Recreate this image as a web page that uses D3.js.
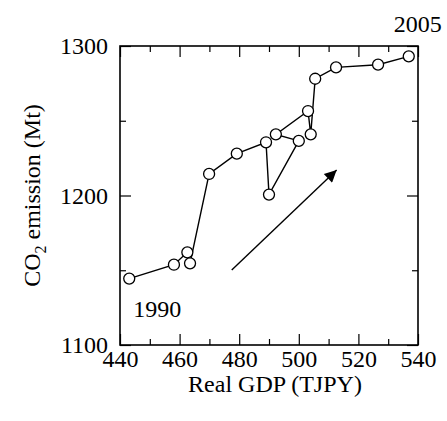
<!DOCTYPE html>
<html lang="en">
  <head>
    <meta charset="UTF-8" />
    <script src="https://d3js.org/d3.v7.min.js"></script>
    <style>
      body { margin: 0; background: #fff; }
      .domain { display: none; }
      .tick line { stroke: #000; stroke-width: 1.2; }
    </style>
  </head>
  <body>
    <svg width="447" height="421"></svg>
    <script>
      // data
      const years = [1990, 1991, 1992, 1993, 1994, 1995, 1996, 1997, 1998, 1999, 2000, 2001, 2002, 2003, 2004, 2005];
      const gdp = [443.1, 458.1, 462.6, 463.5, 469.9, 479.2, 489.0, 490.0, 500.0, 492.3, 503.1, 504.0, 505.5, 512.5, 526.6, 536.9];
      const co2 = [1144.4, 1153.7, 1162.0, 1154.6, 1214.4, 1228.0, 1235.6, 1200.6, 1236.5, 1240.9, 1256.5, 1240.9, 1278.1, 1285.7, 1287.5, 1293.1];
      const xMajor = [440, 460, 480, 500, 520, 540];
      const xMinor = [450, 470, 490, 510, 530];
      const yMajor = [1100, 1200, 1300];
      const yMinor = [1150, 1250];
      const arrowFrom = [477.5, 1150.2];
      const arrowTo = [512.7, 1217];

      const points = years.map((yr, i) => ({ year: yr, gdp: gdp[i], co2: co2[i] }));

      const margin = { top: 46, right: 29, bottom: 76, left: 120 };
      const width = 447 - margin.left - margin.right;
      const height = 421 - margin.top - margin.bottom;

      const serif = '"Liberation Serif", "Times New Roman", Times, "DejaVu Serif", serif';
      const fs = 24;

      const svg = d3.select('svg');
      const g = svg.append('g').attr('transform', `translate(${margin.left}, ${margin.top})`);

      const x = d3.scaleLinear().domain([440, 540]).range([0, width]);
      const y = d3.scaleLinear().domain([1100, 1300]).range([height, 0]);

      // axes, ticks pointing inward
      const axB = g.append('g').attr('transform', `translate(0, ${height})`);
      axB.call(d3.axisBottom(x).tickValues(xMajor).tickSize(-11).tickPadding(5).tickFormat(d3.format('d')));
      axB.append('g').call(d3.axisBottom(x).tickValues(xMinor).tickSize(-6).tickFormat(''));
      axB.selectAll('text').attr('dy', '0.71em');

      const axT = g.append('g');
      axT.call(d3.axisTop(x).tickValues(xMajor).tickSize(-11).tickFormat(''));
      axT.append('g').call(d3.axisTop(x).tickValues(xMinor).tickSize(-6).tickFormat(''));

      const axL = g.append('g');
      axL.call(d3.axisLeft(y).tickValues(yMajor).tickSize(-11).tickPadding(12).tickFormat(d3.format('d')));
      axL.append('g').call(d3.axisLeft(y).tickValues(yMinor).tickSize(-6).tickFormat(''));

      const axR = g.append('g').attr('transform', `translate(${width}, 0)`);
      axR.call(d3.axisRight(y).tickValues(yMajor).tickSize(-11).tickFormat(''));
      axR.append('g').call(d3.axisRight(y).tickValues(yMinor).tickSize(-6).tickFormat(''));

      // frame
      g.append('rect')
        .attr('width', width)
        .attr('height', height)
        .attr('fill', 'none')
        .attr('stroke', '#000')
        .attr('stroke-width', 1.6);

      // arrow
      svg.append('defs')
        .append('marker')
        .attr('id', 'head')
        .attr('viewBox', '0 0 10 10')
        .attr('refX', 10)
        .attr('refY', 5)
        .attr('markerUnits', 'userSpaceOnUse')
        .attr('markerWidth', 18)
        .attr('markerHeight', 12)
        .attr('orient', 'auto')
        .append('path')
        .attr('d', 'M0,0 L10,5 L0,10 Z')
        .attr('fill', '#000');

      g.append('line')
        .attr('x1', x(arrowFrom[0]))
        .attr('y1', y(arrowFrom[1]))
        .attr('x2', x(arrowTo[0]))
        .attr('y2', y(arrowTo[1]))
        .attr('stroke', '#000')
        .attr('stroke-width', 1.4)
        .attr('marker-end', 'url(#head)');

      // path + circles
      const line = d3.line().x((d) => x(d.gdp)).y((d) => y(d.co2));
      g.append('path')
        .datum(points)
        .attr('d', line)
        .attr('fill', 'none')
        .attr('stroke', '#000')
        .attr('stroke-width', 1.4);

      g.selectAll('circle')
        .data(points)
        .enter()
        .append('circle')
        .attr('cx', (d) => x(d.gdp))
        .attr('cy', (d) => y(d.co2))
        .attr('r', 5.5)
        .attr('fill', '#fff')
        .attr('stroke', '#000')
        .attr('stroke-width', 1.3);

      // year labels
      const first = points[0];
      const last = points[points.length - 1];
      g.append('text')
        .attr('x', x(first.gdp) + 4)
        .attr('y', y(first.co2) + 38)
        .text(first.year);
      g.append('text')
        .attr('x', x(last.gdp) + 9)
        .attr('y', y(last.co2) - 24)
        .attr('text-anchor', 'middle')
        .text(last.year);

      // axis labels
      svg.append('text')
        .attr('x', margin.left + width / 2 + 6)
        .attr('y', 392)
        .attr('text-anchor', 'middle')
        .text('Real GDP (TJPY)');

      const yl = svg.append('text')
        .attr('transform', `translate(40, ${margin.top + height / 2}) rotate(-90)`)
        .attr('text-anchor', 'middle');
      yl.append('tspan').text('CO');
      yl.append('tspan').attr('dy', 6).attr('class', 'sub').text('2');
      yl.append('tspan').attr('dy', -6).text(' emission (Mt)');

      // one font for every label
      svg.selectAll('text')
        .attr('font-family', null)
        .style('font-family', serif)
        .style('font-size', fs + 'px')
        .style('fill', '#000');
      svg.selectAll('g').attr('font-family', null);
      yl.select('.sub').style('font-size', '16px');
    </script>
  </body>
</html>
